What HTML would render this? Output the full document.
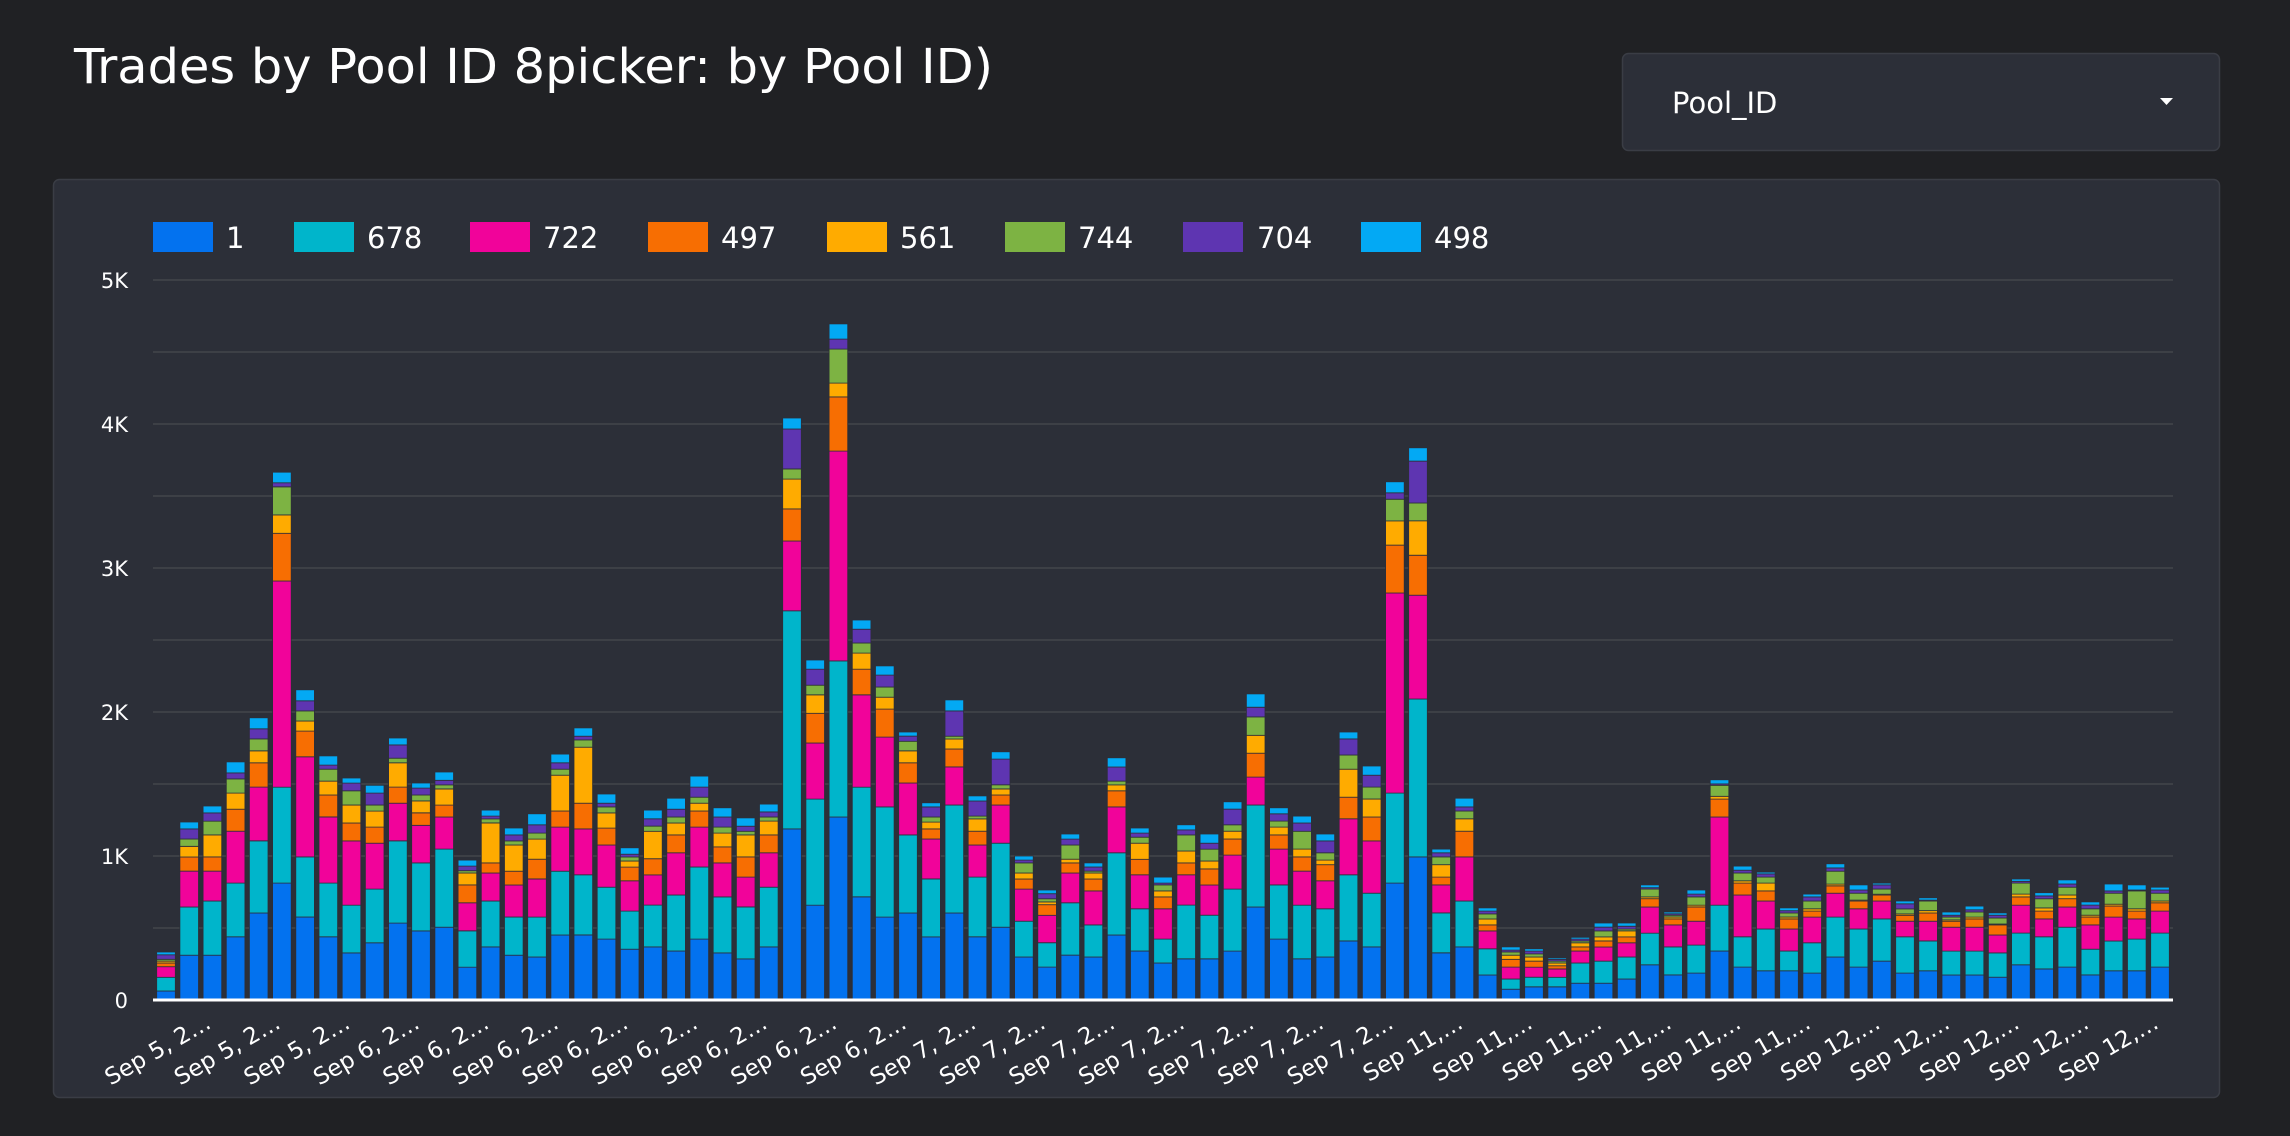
<!DOCTYPE html>
<html><head><meta charset="utf-8">
<style>
html,body{margin:0;padding:0;background:#202124;width:2290px;height:1136px;overflow:hidden;}
svg{display:block}
</style></head>
<body>
<svg id="s" width="2290" height="1136" xmlns="http://www.w3.org/2000/svg" font-family="DejaVu Sans, Liberation Sans, sans-serif">
<rect width="2290" height="1136" fill="#202124"/>
<text x="74" y="83" font-size="48" fill="#ffffff" textLength="919" lengthAdjust="spacingAndGlyphs">Trades by Pool ID 8picker: by Pool ID)</text>
<rect x="1622.5" y="53.5" width="597" height="97" rx="6" fill="#2c2f38" stroke="#3a3d45" stroke-width="1.5"/>
<text x="1672" y="113" font-size="29" fill="#ffffff">Pool_ID</text>
<polygon points="2160,98 2173,98 2166.5,105" fill="#ffffff"/>
<rect x="53.5" y="179.5" width="2166" height="918" rx="6" fill="#2c2f38" stroke="#3a3d45" stroke-width="1.5"/>
<g id="grid" stroke="#3d4046" stroke-width="2">
<line x1="153" x2="2173" y1="280" y2="280"/><line x1="153" x2="2173" y1="352" y2="352"/>
<line x1="153" x2="2173" y1="424" y2="424"/><line x1="153" x2="2173" y1="496" y2="496"/>
<line x1="153" x2="2173" y1="568" y2="568"/><line x1="153" x2="2173" y1="640" y2="640"/>
<line x1="153" x2="2173" y1="712" y2="712"/><line x1="153" x2="2173" y1="784" y2="784"/>
<line x1="153" x2="2173" y1="856" y2="856"/><line x1="153" x2="2173" y1="928" y2="928"/>
</g>
<g font-size="21" fill="#ffffff" text-anchor="end">
<text x="128" y="1008">0</text><text x="128" y="864">1K</text><text x="128" y="720">2K</text>
<text x="128" y="576">3K</text><text x="128" y="432">4K</text><text x="128" y="288">5K</text>
</g>
<g font-size="29" fill="#ffffff">
<rect x="153" y="222" width="60" height="30" fill="#0372ef"/><text x="226" y="248">1</text>
<rect x="294" y="222" width="60" height="30" fill="#00b5cb"/><text x="367" y="248">678</text>
<rect x="470" y="222" width="60" height="30" fill="#f1039a"/><text x="543" y="248">722</text>
<rect x="648" y="222" width="60" height="30" fill="#f76e02"/><text x="721" y="248">497</text>
<rect x="827" y="222" width="60" height="30" fill="#ffab00"/><text x="900" y="248">561</text>
<rect x="1005" y="222" width="60" height="30" fill="#7db343"/><text x="1078" y="248">744</text>
<rect x="1183" y="222" width="60" height="30" fill="#5e35b1"/><text x="1257" y="248">704</text>
<rect x="1361" y="222" width="60" height="30" fill="#03a9f4"/><text x="1434" y="248">498</text>
</g>
<g id="bars"></g>
<line x1="153" x2="2173" y1="1000" y2="1000" stroke="#ffffff" stroke-width="3"/>
<g font-size="23" fill="#ffffff" text-anchor="end">
<text transform="translate(212.4,1027) rotate(-30)">Sep 5, 2…</text>
<text transform="translate(281.9,1027) rotate(-30)">Sep 5, 2…</text>
<text transform="translate(351.5,1027) rotate(-30)">Sep 5, 2…</text>
<text transform="translate(421.0,1027) rotate(-30)">Sep 6, 2…</text>
<text transform="translate(490.6,1027) rotate(-30)">Sep 6, 2…</text>
<text transform="translate(560.2,1027) rotate(-30)">Sep 6, 2…</text>
<text transform="translate(629.7,1027) rotate(-30)">Sep 6, 2…</text>
<text transform="translate(699.3,1027) rotate(-30)">Sep 6, 2…</text>
<text transform="translate(768.8,1027) rotate(-30)">Sep 6, 2…</text>
<text transform="translate(838.4,1027) rotate(-30)">Sep 6, 2…</text>
<text transform="translate(908.0,1027) rotate(-30)">Sep 6, 2…</text>
<text transform="translate(977.5,1027) rotate(-30)">Sep 7, 2…</text>
<text transform="translate(1047.1,1027) rotate(-30)">Sep 7, 2…</text>
<text transform="translate(1116.6,1027) rotate(-30)">Sep 7, 2…</text>
<text transform="translate(1186.2,1027) rotate(-30)">Sep 7, 2…</text>
<text transform="translate(1255.7,1027) rotate(-30)">Sep 7, 2…</text>
<text transform="translate(1325.3,1027) rotate(-30)">Sep 7, 2…</text>
<text transform="translate(1394.9,1027) rotate(-30)">Sep 7, 2…</text>
<text transform="translate(1464.4,1027) rotate(-30)">Sep 11,…</text>
<text transform="translate(1534.0,1027) rotate(-30)">Sep 11,…</text>
<text transform="translate(1603.5,1027) rotate(-30)">Sep 11,…</text>
<text transform="translate(1673.1,1027) rotate(-30)">Sep 11,…</text>
<text transform="translate(1742.6,1027) rotate(-30)">Sep 11,…</text>
<text transform="translate(1812.2,1027) rotate(-30)">Sep 11,…</text>
<text transform="translate(1881.8,1027) rotate(-30)">Sep 12,…</text>
<text transform="translate(1951.3,1027) rotate(-30)">Sep 12,…</text>
<text transform="translate(2020.9,1027) rotate(-30)">Sep 12,…</text>
<text transform="translate(2090.4,1027) rotate(-30)">Sep 12,…</text>
<text transform="translate(2160.0,1027) rotate(-30)">Sep 12,…</text>
</g>
</svg>
<script>
var D=[
[1505,1475,1452,1444,1440,1436,1426,1420],[1427,1322,1244,1213,1190,1174,1152,1137],[1427,1309,1244,1213,1165,1135,1117,1102],
[1387,1270,1157,1109,1074,1043,1030,1006],[1335,1178,1061,1008,982,956,934,910],[1270,1061,612,508,468,407,398,375],
[1344,1213,995,939,917,895,873,849],[1387,1270,1126,1078,1048,1022,1013,993],[1422,1318,1178,1139,1100,1069,1052,1041],
[1400,1283,1183,1148,1113,1100,1074,1057],[1357,1178,1096,1061,1008,998,969,954],[1374,1226,1144,1117,1091,1078,1063,1052],
[1366,1196,1126,1100,1065,1056,1046,1028],[1453,1374,1313,1274,1248,1243,1233,1220],[1409,1309,1248,1226,1139,1130,1124,1111],
[1427,1344,1274,1244,1187,1178,1165,1150],[1431,1344,1261,1218,1174,1161,1143,1119],[1383,1244,1148,1113,1035,1022,1008,989],
[1383,1252,1152,1096,974,958,950,932],[1392,1279,1187,1150,1117,1104,1096,1076],[1414,1331,1265,1235,1222,1213,1207,1193],
[1409,1318,1252,1217,1157,1146,1130,1111],[1418,1296,1204,1165,1139,1126,1109,1085],[1392,1235,1148,1113,1096,1083,1061,1037],
[1422,1300,1226,1191,1161,1148,1126,1106],[1435,1322,1257,1213,1165,1157,1146,1128],[1409,1279,1204,1165,1135,1126,1115,1098],
[1152,677,525,455,390,368,281,257],[1318,1087,965,900,860,839,804,784],[1126,786,329,211,181,107,85,52],
[1300,1061,860,804,769,747,717,697],[1344,1104,952,891,865,843,817,797],[1335,1165,1052,1008,982,961,950,941],
[1387,1261,1174,1152,1137,1126,1104,1095],[1335,1100,1017,978,956,950,895,871],[1387,1257,1187,1157,1130,1124,1091,1080],
[1366,1183,1100,1078,1065,1056,1000,984],[1431,1353,1283,1261,1248,1226,1220,1211],[1453,1400,1340,1317,1311,1304,1293,1285],
[1427,1313,1248,1226,1218,1187,1174,1163],[1431,1361,1287,1261,1248,1244,1235,1226],[1383,1204,1104,1069,1056,1048,1017,997],
[1418,1326,1252,1218,1183,1170,1161,1150],[1444,1392,1326,1300,1287,1274,1270,1257],[1435,1318,1252,1226,1200,1165,1154,1143],
[1435,1340,1274,1239,1222,1196,1183,1163],[1418,1283,1209,1174,1157,1143,1109,1093],[1322,1100,1039,987,948,908,887,858],
[1392,1274,1196,1165,1148,1135,1119,1106],[1435,1318,1244,1213,1196,1157,1139,1124],[1431,1326,1265,1230,1220,1204,1178,1163],
[1396,1252,1130,1083,1022,991,956,941],[1409,1292,1178,1126,1087,1061,1035,1015],[1270,1074,638,534,481,434,420,396],
[1213,869,643,556,481,442,351,322],[1422,1335,1274,1257,1230,1213,1204,1196],[1409,1309,1213,1157,1130,1113,1104,1085],
[1470,1413,1374,1361,1348,1337,1331,1324],[1501,1479,1453,1436,1427,1420,1416,1409],[1496,1475,1453,1440,1431,1424,1418,1413],
[1496,1475,1457,1450,1444,1440,1436,1433],[1488,1444,1418,1409,1400,1396,1392,1388],[1488,1440,1409,1396,1387,1374,1366,1357],
[1479,1431,1400,1387,1374,1370,1364,1357],[1448,1379,1322,1304,1300,1283,1280,1274],[1470,1409,1361,1348,1344,1340,1337,1333],
[1466,1405,1353,1322,1318,1300,1294,1285],[1418,1318,1126,1087,1081,1057,1054,1045],[1453,1387,1296,1270,1265,1248,1242,1233],
[1461,1370,1309,1287,1270,1257,1250,1246],[1461,1418,1370,1348,1344,1335,1330,1324],[1466,1400,1344,1331,1326,1309,1300,1294],
[1431,1344,1292,1276,1272,1244,1237,1228],[1453,1370,1326,1309,1307,1292,1285,1274],[1440,1348,1309,1296,1294,1283,1274,1270],
[1466,1387,1353,1340,1337,1326,1315,1309],[1461,1396,1353,1335,1330,1309,1307,1302],[1470,1418,1366,1353,1350,1344,1340,1333],
[1470,1418,1366,1348,1344,1333,1328,1320],[1475,1422,1383,1361,1359,1346,1340,1335],[1448,1379,1318,1300,1294,1270,1266,1261],
[1457,1387,1348,1331,1324,1304,1298,1291],[1453,1366,1322,1304,1296,1279,1272,1263],[1470,1414,1361,1344,1340,1326,1318,1311],
[1461,1396,1344,1320,1316,1292,1287,1272],[1461,1392,1348,1331,1326,1287,1285,1274],[1453,1379,1331,1313,1309,1292,1285,1279]];
var C=["#0372ef","#00b5cb","#f1039a","#f76e02","#ffab00","#7db343","#5e35b1","#03a9f4"];
var g=document.getElementById("bars"),ns="http://www.w3.org/2000/svg";
for(var i=0;i<D.length;i++){var cx=166+23.186*i,prev=1000;
for(var k=0;k<8;k++){var y=300+D[i][k]/2.178;var h=prev-y;if(h>0.2){var r=document.createElementNS(ns,"rect");
r.setAttribute("x",(cx-9.3).toFixed(1));r.setAttribute("y",y.toFixed(1));r.setAttribute("width","18.6");r.setAttribute("height",h.toFixed(1));
r.setAttribute("fill",C[k]);r.setAttribute("stroke","#2c2f38");r.setAttribute("stroke-width","0.8");g.appendChild(r);}prev=y;}}
</script>
</body></html>
